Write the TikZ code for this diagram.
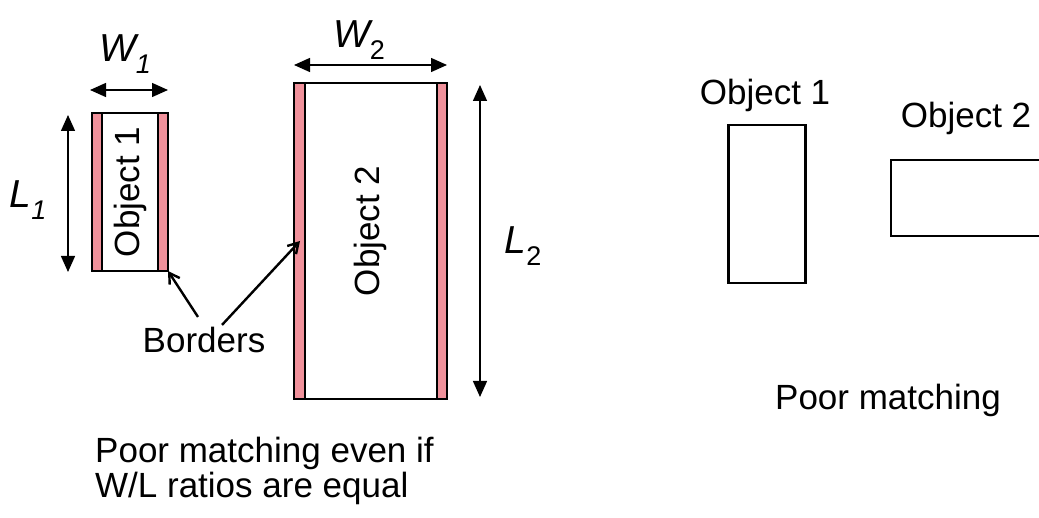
\documentclass[tikz,border=0pt]{standalone}
\usepackage{fontspec}
\setmainfont{Liberation Sans}
\usetikzlibrary{arrows.meta,positioning}
\definecolor{borderpink}{RGB}{240,145,155}
\newcommand{\dimlabel}[2]{{\itshape #1}\raisebox{-12pt}{\fontsize{27}{27}\selectfont #2}}

\begin{document}
\begin{tikzpicture}[x=1pt,y=-1pt,
    lbl/.style={font=\fontsize{35}{35}\selectfont,inner sep=0pt},
    dimlbl/.style={font=\fontsize{39}{39}\selectfont,inner sep=0pt},
    objarea/.style={rectangle,inner sep=0pt,outer sep=0pt},
    boxline/.style={line width=2.4pt},
    strip/.style={fill=borderpink,draw=black,line width=1.6pt},
    dim/.style={line width=1.4pt,{Triangle[length=16pt,width=14pt]}-{Triangle[length=16pt,width=14pt]}},
    ptr/.style={line width=2.4pt,-{Straight Barb[length=10pt,width=12pt]}}
  ]
    \clip (0,0) rectangle (1039,518);
    % Left: objects with borders
    \node[objarea,minimum width=76pt,minimum height=158pt] (obj1) at (130,192) {};
    \filldraw[strip] (obj1.north west) rectangle ++(10,158);
    \filldraw[strip] (obj1.north east) rectangle ++(-10,158);
    \draw[boxline] (obj1.north west) rectangle (obj1.south east);
    \node[lbl,rotate=90] (obj1txt) at (obj1.center) {Object 1};

    \node[objarea,minimum width=153pt,minimum height=316pt] (obj2) at (370.5,241) {};
    \filldraw[strip] (obj2.north west) rectangle ++(11,316);
    \filldraw[strip] (obj2.north east) rectangle ++(-10,316);
    \draw[boxline] (obj2.north west) rectangle (obj2.south east);
    \node[lbl,rotate=90] (obj2txt) at (370,231) {Object 2};

    % Dimensions
    \coordinate (w1a) at (90,90);
    \coordinate (w1b) at (168,90);
    \coordinate (l1a) at (68,115);
    \coordinate (l1b) at (68,272);
    \coordinate (w2a) at (294,65);
    \coordinate (w2b) at (447,65);
    \coordinate (l2a) at (480,85);
    \coordinate (l2b) at (480,397);
    \draw[dim] (w1a) -- (w1b);
    \draw[dim] (l1a) -- (l1b);
    \draw[dim] (w2a) -- (w2b);
    \draw[dim] (l2a) -- (l2b);
    \node[dimlbl] (w1) at (125,54) {\dimlabel{W}{\itshape 1}};
    \node[dimlbl] (l1) at (28,200) {\dimlabel{L}{\itshape 1}};
    \node[dimlbl] (w2) at (359,40) {\dimlabel{W}{2}};
    \node[dimlbl] (l2) at (523,246) {\dimlabel{L}{2}};

    % Borders
    \node[lbl] (borders) at (204,340) {Borders};
    \coordinate (tip2) at ([xshift=6pt]obj2.west);
    \draw[ptr] ([xshift=-6pt,yshift=10pt]borders.north) -- (obj1.south east);
    \draw[ptr] ([xshift=18pt,yshift=2pt]borders.north) -- (tip2);

    \node[lbl,align=left,anchor=west] (note1) at (95,471) {Poor matching even if\\W/L ratios are equal};

    % Right: plain objects
    \node[draw,line width=2.4pt,minimum width=77pt,minimum height=158pt] (pobj1) at (767,204) {};
    \node[lbl] (pobj1txt) at (765,95) {Object 1};
    \node[draw,line width=2.4pt,minimum width=170pt,minimum height=76pt] (pobj2) at (976,198) {};
    \node[lbl] (pobj2txt) at (966,118) {Object 2};
    \node[lbl] (note2) at (888,400) {Poor matching};
  \end{tikzpicture}
\end{document}
